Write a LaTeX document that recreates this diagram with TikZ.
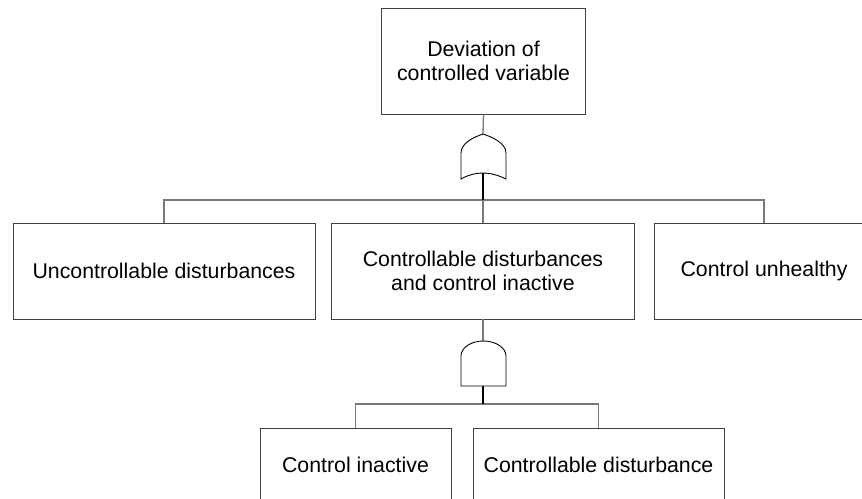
\documentclass[tikz,border=0pt]{standalone}
\usepackage{fontspec}
\setmainfont{Liberation Sans}
\begin{document}
\begin{tikzpicture}[x=1pt,y=-1pt,
  event/.style={draw={rgb,255:red,64;green,64;blue,64}, line width=0.9pt, fill=white,
    inner sep=0pt, align=center, font=\fontsize{21.3}{24}\selectfont},
  conn/.style={draw={rgb,255:red,120;green,120;blue,120}, line width=1.3pt},
  gateout/.style={draw=black, line width=2pt},
  gate/.style={draw=black, line width=0.9pt, fill=white}]
\useasboundingbox (0,0) rectangle (862,498);
\clip (0,0) rectangle (862,498);

% events
\node[event, minimum width=204pt, minimum height=106pt] (top) at (483.5,61)
  {Deviation of\\controlled variable};
\node[event, minimum width=302pt, minimum height=96pt] (uncd) at (164,271)
  {Uncontrollable disturbances};
\node[event, minimum width=303pt, minimum height=96pt] (cdci) at (483,271)
  {Controllable disturbances\\and control inactive};
\node[event, minimum width=220pt, minimum height=96pt] (cunh) at (764,271)
  {Control unhealthy};
\node[event, minimum width=191pt, minimum height=74pt] (cina) at (355.5,465)
  {Control inactive};
\node[event, minimum width=251pt, minimum height=74pt] (cdis) at (598.5,465)
  {Controllable disturbance};

% gate terminals and buses
\coordinate (orin) at (483,134);
\coordinate (orout) at (483,173);
\coordinate (bus1) at (483,200);
\coordinate (andin) at (483,341);
\coordinate (andout) at (483,386);
\coordinate (bus2) at (483,404);

% OR gate connectors
\draw[conn] (top.south) -- (orin);
\draw[conn] (uncd.north) |- (bus1) -| (cunh.north);
\draw[conn] (bus1) -- (cdci.north);
\draw[gateout] (orout) -- (bus1);

% AND gate connectors
\draw[conn] (cdci.south) -- (andin);
\draw[conn] (cina.north) |- (bus2) -| (cdis.north);
\draw[gateout] (andout) -- (bus2);

% OR gate
\draw[gate] (461,179) -- (461,153)
  .. controls (461,143) and (474,137) .. (orin)
  .. controls (492,137) and (506,143) .. (506,153) -- (506,179)
  .. controls (498,175) and (490,173) .. (orout)
  .. controls (476,173) and (468,175) .. (461,179) -- cycle;

% AND gate
\draw[gate] (461,386) -- (461,356)
  .. controls (461,347.7) and (471.1,341) .. (andin)
  .. controls (495.9,341) and (506,347.7) .. (506,356)
  -- (506,386) -- cycle;
\end{tikzpicture}
\end{document}
